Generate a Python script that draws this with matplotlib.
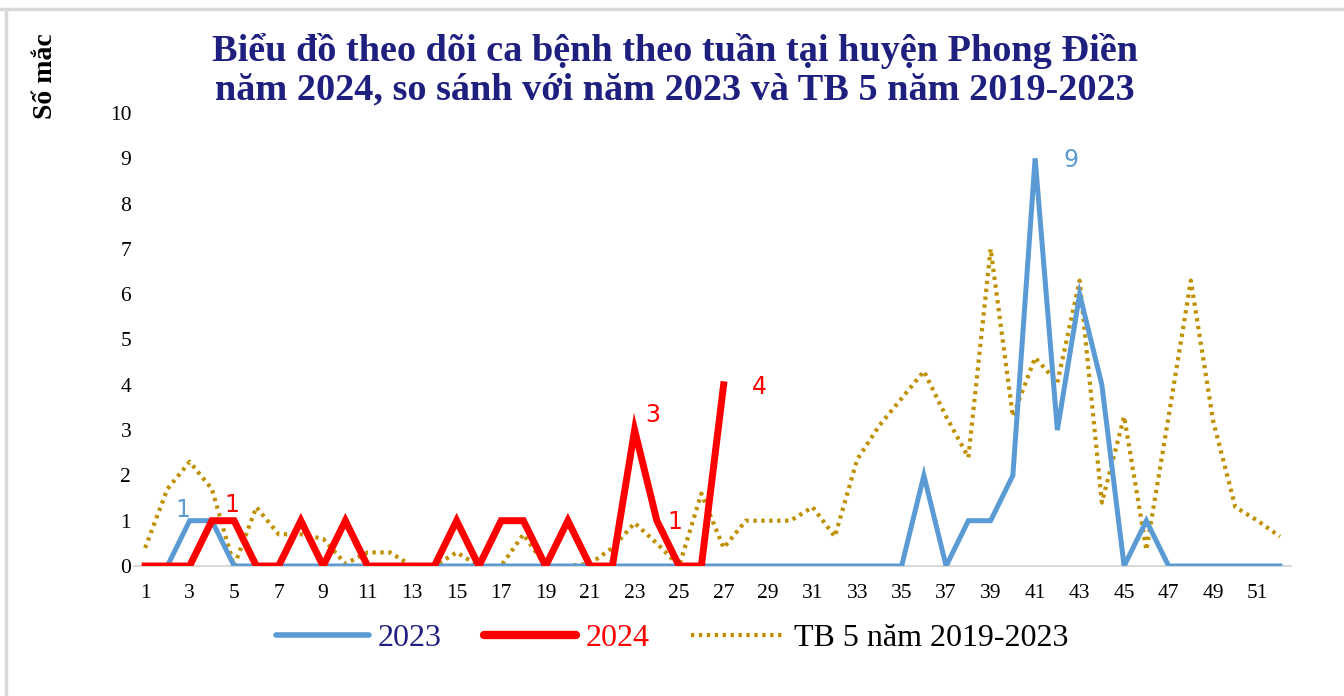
import matplotlib
matplotlib.use("Agg")
import matplotlib.pyplot as plt
from matplotlib.lines import Line2D

weeks = list(range(1, 53))
y2023 = [0, 0, 1, 1, 0, 0, 0, 0, 0, 0, 0, 0, 0, 0, 0, 0, 0, 0, 0, 0,
         0, 0, 0, 0, 0, 0, 0, 0, 0, 0, 0, 0, 0, 0, 0, 2, 0, 1, 1, 2,
         9, 3, 6, 4, 0, 1, 0, 0, 0, 0, 0, 0]
weeks2024 = list(range(1, 28))
y2024 = [0, 0, 0, 1, 1, 0, 0, 1, 0, 1, 0, 0, 0, 0, 1, 0, 1, 1, 0, 1,
         0, 0, 3, 1, 0, 0, 4]
tb5 = [0.4, 1.7, 2.3, 1.7, 0.0, 1.3, 0.7, 0.7, 0.6, 0.05, 0.3, 0.3, 0.0, 0.0,
       0.3, 0.0, 0.0, 0.7, 0.0, 0.0, 0.05, 0.4, 0.95, 0.5, 0.0, 1.6, 0.4, 1.0,
       1.0, 1.0, 1.3, 0.65, 2.35, 3.1, 3.7, 4.3, 3.3, 2.4, 7.0, 3.3, 4.6, 4.05,
       6.3, 1.4, 3.3, 0.35, 3.3, 6.3, 3.2, 1.3, 1.0, 0.65]
xticks = list(range(1, 52, 2))
yticks = list(range(0, 11))

title = "Biểu đồ theo dõi ca bệnh theo tuần tại huyện Phong Điền\nnăm 2024, so sánh với năm 2023 và TB 5 năm 2019-2023"

c23 = "#5B9BD5"
c24 = "#FF0000"
ctb = "#BF9000"
navy = "#1F1F80"

fig = plt.figure(figsize=(13.44, 6.96), dpi=100)
ax = fig.add_axes([134/1344, 1-566/696, (1291-134)/1344, (566-113)/696])

ax.plot(weeks, tb5, color=ctb, lw=3.0, linestyle=(0, (0.8, 1.1)), zorder=2)
ax.plot(weeks, y2023, color=c23, lw=3.6, solid_joinstyle="miter", zorder=3)
ax.plot(weeks2024, y2024, color=c24, lw=5.0, solid_joinstyle="miter", zorder=4)

ax.set_xlim(0.5, 52.5)
ax.set_ylim(0, 10)
ax.set_xticks(xticks)
ax.set_yticks(yticks)
for s in ["top", "right", "left"]:
    ax.spines[s].set_visible(False)
ax.spines["bottom"].set_color("#D9D9D9")
ax.spines["bottom"].set_linewidth(1.5)
ax.tick_params(length=0, labelsize=15.5)
ax.tick_params(axis="x", pad=13)
ax.tick_params(axis="y", pad=2)
for lab in ax.get_xticklabels() + ax.get_yticklabels():
    lab.set_family("Liberation Serif")

lf = dict(family="DejaVu Sans", fontsize=17)
ax.text(2.7, 1.24, "1", color=c23, ha="center", va="center", **lf)
ax.text(4.9, 1.35, "1", color=c24, ha="center", va="center", **lf)
ax.text(23.8, 3.33, "3", color=c24, ha="center", va="center", **lf)
ax.text(24.8, 0.97, "1", color=c24, ha="center", va="center", **lf)
ax.text(28.6, 3.95, "4", color=c24, ha="center", va="center", **lf)
ax.text(42.6, 8.96, "9", color=c23, ha="center", va="center", **lf)

fig.text(0.502, 1-70/696, title, ha="center", va="center", fontsize=27.5,
         fontweight="bold", family="Liberation Serif", color=navy,
         linespacing=1.12)
fig.text(45/1344, 1-76/696, "Số mắc", rotation=90, ha="center", va="center",
         fontsize=20, fontweight="bold", family="Liberation Serif", color="black")

handles = [Line2D([], [], color=c23, lw=4, solid_capstyle="round"),
           Line2D([], [], color=c24, lw=6, solid_capstyle="round"),
           Line2D([], [], color=ctb, lw=3, linestyle=(0, (0.8, 1.1)))]
leg = fig.legend(handles, ["2023", "2024", "TB 5 năm 2019-2023"], loc="center",
                 bbox_to_anchor=(0.5, 1-638/696), ncol=3, frameon=False,
                 prop=dict(family="Liberation Serif", size=23), handlelength=2.9,
                 columnspacing=1.3, handletextpad=0.3)
for t, c in zip(leg.get_texts(), [navy, c24, "black"]):
    t.set_color(c)

fig.add_artist(Line2D([0, 1], [1-9/696, 1-9/696], color="#D9D9D9", lw=2.5, transform=fig.transFigure))
fig.add_artist(Line2D([5.5/1344, 5.5/1344], [0, 1-9/696], color="#D9D9D9", lw=2.5, transform=fig.transFigure))

fig.savefig("out.png", dpi=100)
